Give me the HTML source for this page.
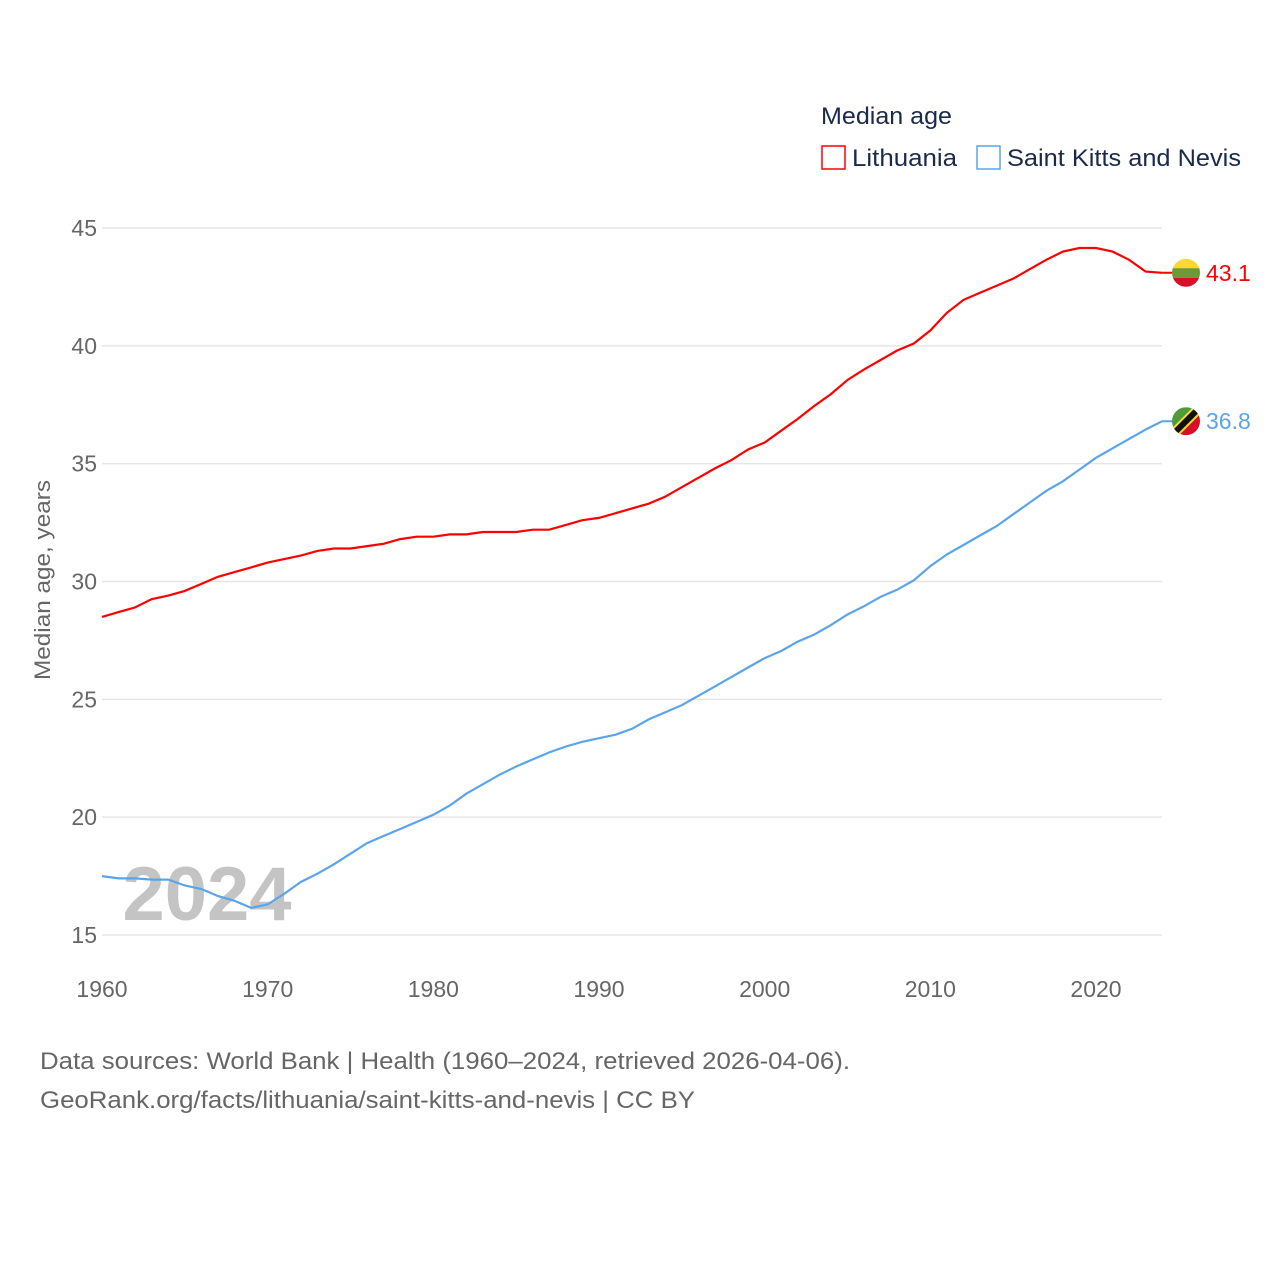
<!DOCTYPE html>
<html><head><meta charset="utf-8"><style>
body{margin:0;background:#fff;width:1280px;height:1280px;overflow:hidden;font-family:"Liberation Sans",sans-serif;}
</style></head><body>
<svg width="1280" height="1280" id="chart" xmlns="http://www.w3.org/2000/svg">
<g id="grid"></g>
<g id="yticks"></g>
<g id="xticks"></g>
<text x="207" y="920" font-size="76" font-weight="bold" fill="#c4c4c4" text-anchor="middle">2024</text>
<text transform="translate(50,580) rotate(-90)" font-size="22" fill="#666" text-anchor="middle" textLength="200" lengthAdjust="spacingAndGlyphs">Median age, years</text>
<g id="series"></g>
<text x="821" y="124" font-size="24" fill="#1a2a4a" textLength="131" lengthAdjust="spacingAndGlyphs">Median age</text>
<g><rect x="822" y="146" width="23" height="23" fill="none" stroke="#ff0000" stroke-width="1.5"/><text x="852" y="166" font-size="24" fill="#1a2a4a" textLength="105" lengthAdjust="spacingAndGlyphs">Lithuania</text></g>
<g><rect x="977" y="146" width="23" height="23" fill="none" stroke="#5ba4ea" stroke-width="1.5"/><text x="1007" y="166" font-size="24" fill="#1a2a4a" textLength="234" lengthAdjust="spacingAndGlyphs">Saint Kitts and Nevis</text></g>
<text x="40" y="1069" font-size="24" fill="#666" textLength="810" lengthAdjust="spacingAndGlyphs">Data sources: World Bank | Health (1960–2024, retrieved 2026-04-06).</text>
<text x="40" y="1108" font-size="24" fill="#666" textLength="655" lengthAdjust="spacingAndGlyphs">GeoRank.org/facts/lithuania/saint-kitts-and-nevis | CC BY</text>
</svg>
<script>
const years=[];for(let y=1960;y<=2024;y++)years.push(y);
const lithuania=[28.5,28.7,28.9,29.25,29.4,29.6,29.9,30.2,30.4,30.6,30.8,30.95,31.1,31.3,31.4,31.4,31.5,31.6,31.8,31.9,31.9,32.0,32.0,32.1,32.1,32.1,32.2,32.2,32.4,32.6,32.7,32.9,33.1,33.3,33.6,34.0,34.4,34.8,35.15,35.6,35.9,36.4,36.9,37.45,37.95,38.55,39.0,39.4,39.8,40.1,40.65,41.4,41.95,42.25,42.55,42.85,43.25,43.65,44.0,44.15,44.15,44.0,43.65,43.15,43.1];
const skn=[17.5,17.4,17.4,17.35,17.35,17.1,16.95,16.65,16.45,16.15,16.3,16.75,17.25,17.6,18.0,18.45,18.9,19.2,19.5,19.8,20.1,20.5,21.0,21.4,21.8,22.15,22.45,22.75,23.0,23.2,23.35,23.5,23.75,24.15,24.45,24.75,25.15,25.55,25.95,26.35,26.75,27.05,27.45,27.75,28.15,28.6,28.95,29.35,29.65,30.05,30.65,31.15,31.55,31.95,32.35,32.85,33.35,33.85,34.25,34.75,35.25,35.65,36.05,36.45,36.8];
const yTicks=[15,20,25,30,35,40,45];
const xTicks=[1960,1970,1980,1990,2000,2010,2020];
const NS="http://www.w3.org/2000/svg";
const X=v=>102+(v-1960)*(1096-102)/60;
const Y=v=>935-(v-15)*(935-228)/30;
function mk(tag,attrs,parent,text){const e=document.createElementNS(NS,tag);for(const k in attrs)e.setAttribute(k,attrs[k]);if(text!==undefined)e.textContent=text;parent.appendChild(e);return e;}
const grid=document.getElementById('grid'),yt=document.getElementById('yticks'),xt=document.getElementById('xticks'),ser=document.getElementById('series');
yTicks.forEach(t=>{
 const l=mk('line',{x1:102,x2:1162,y1:Y(t),y2:Y(t),stroke:'#e6e6e6','stroke-width':1.5},grid);
 
 
 const tx=mk('text',{x:97,y:Y(t)+8,'font-size':23,fill:'#666','text-anchor':'end'},yt,t);
 
 
});
xTicks.forEach(t=>{
 const tx=mk('text',{x:X(t),y:997,'font-size':23,fill:'#666','text-anchor':'middle'},xt,t);
 
 
});
function line(data,color,name){
 const d=data.map((v,i)=>(i?'L':'M')+X(years[i]).toFixed(1)+','+Y(v).toFixed(1)).join('');
 const p=mk('path',{d:d,fill:'none',stroke:color,'stroke-width':2.2},ser);
 
 
 const last=data[data.length-1],cy=Y(last),cx=1186;
 mk('line',{x1:X(2024),x2:cx,y1:cy,y2:cy,stroke:color,'stroke-width':2},ser);
 return {cx,cy,last};
}
const a=line(lithuania,'#ff0000','lithuania');
const b=line(skn,'#5ba4ea','saint-kitts-and-nevis');
const f1=mk('g',{},ser);


const cp1=mk('clipPath',{id:'c1'},f1);mk('circle',{cx:a.cx,cy:a.cy,r:14},cp1);
const g1=mk('g',{'clip-path':'url(#c1)'},f1);
mk('rect',{x:a.cx-14,y:a.cy-14,width:28,height:10,fill:'#fdd835'},g1);
mk('rect',{x:a.cx-14,y:a.cy-4.5,width:28,height:9.5,fill:'#6a9a3a'},g1);
mk('rect',{x:a.cx-14,y:a.cy+5,width:28,height:10,fill:'#d6102a'},g1);
const t1=mk('text',{x:1206,y:a.cy+8,'font-size':23,fill:'#ff0000'},ser,a.last.toFixed(1));


const f2=mk('g',{},ser);


const cp=mk('clipPath',{id:'c2'},f2);mk('circle',{cx:b.cx,cy:b.cy,r:14},cp);
const g2=mk('g',{'clip-path':'url(#c2)'},f2);
mk('polygon',{points:`${b.cx-14},${b.cy-14} ${b.cx+14},${b.cy-14} ${b.cx-14},${b.cy+14}`,fill:'#4f9a3a'},g2);
mk('polygon',{points:`${b.cx+14},${b.cy-14} ${b.cx+14},${b.cy+14} ${b.cx-14},${b.cy+14}`,fill:'#d6102a'},g2);
mk('line',{x1:b.cx-14,y1:b.cy+14,x2:b.cx+14,y2:b.cy-14,stroke:'#fdd835','stroke-width':10},g2);
mk('line',{x1:b.cx-14,y1:b.cy+14,x2:b.cx+14,y2:b.cy-14,stroke:'#111','stroke-width':6},g2);
const t2=mk('text',{x:1206,y:b.cy+8,'font-size':23,fill:'#5ba4ea'},ser,b.last.toFixed(1));


</script>
</body></html>
